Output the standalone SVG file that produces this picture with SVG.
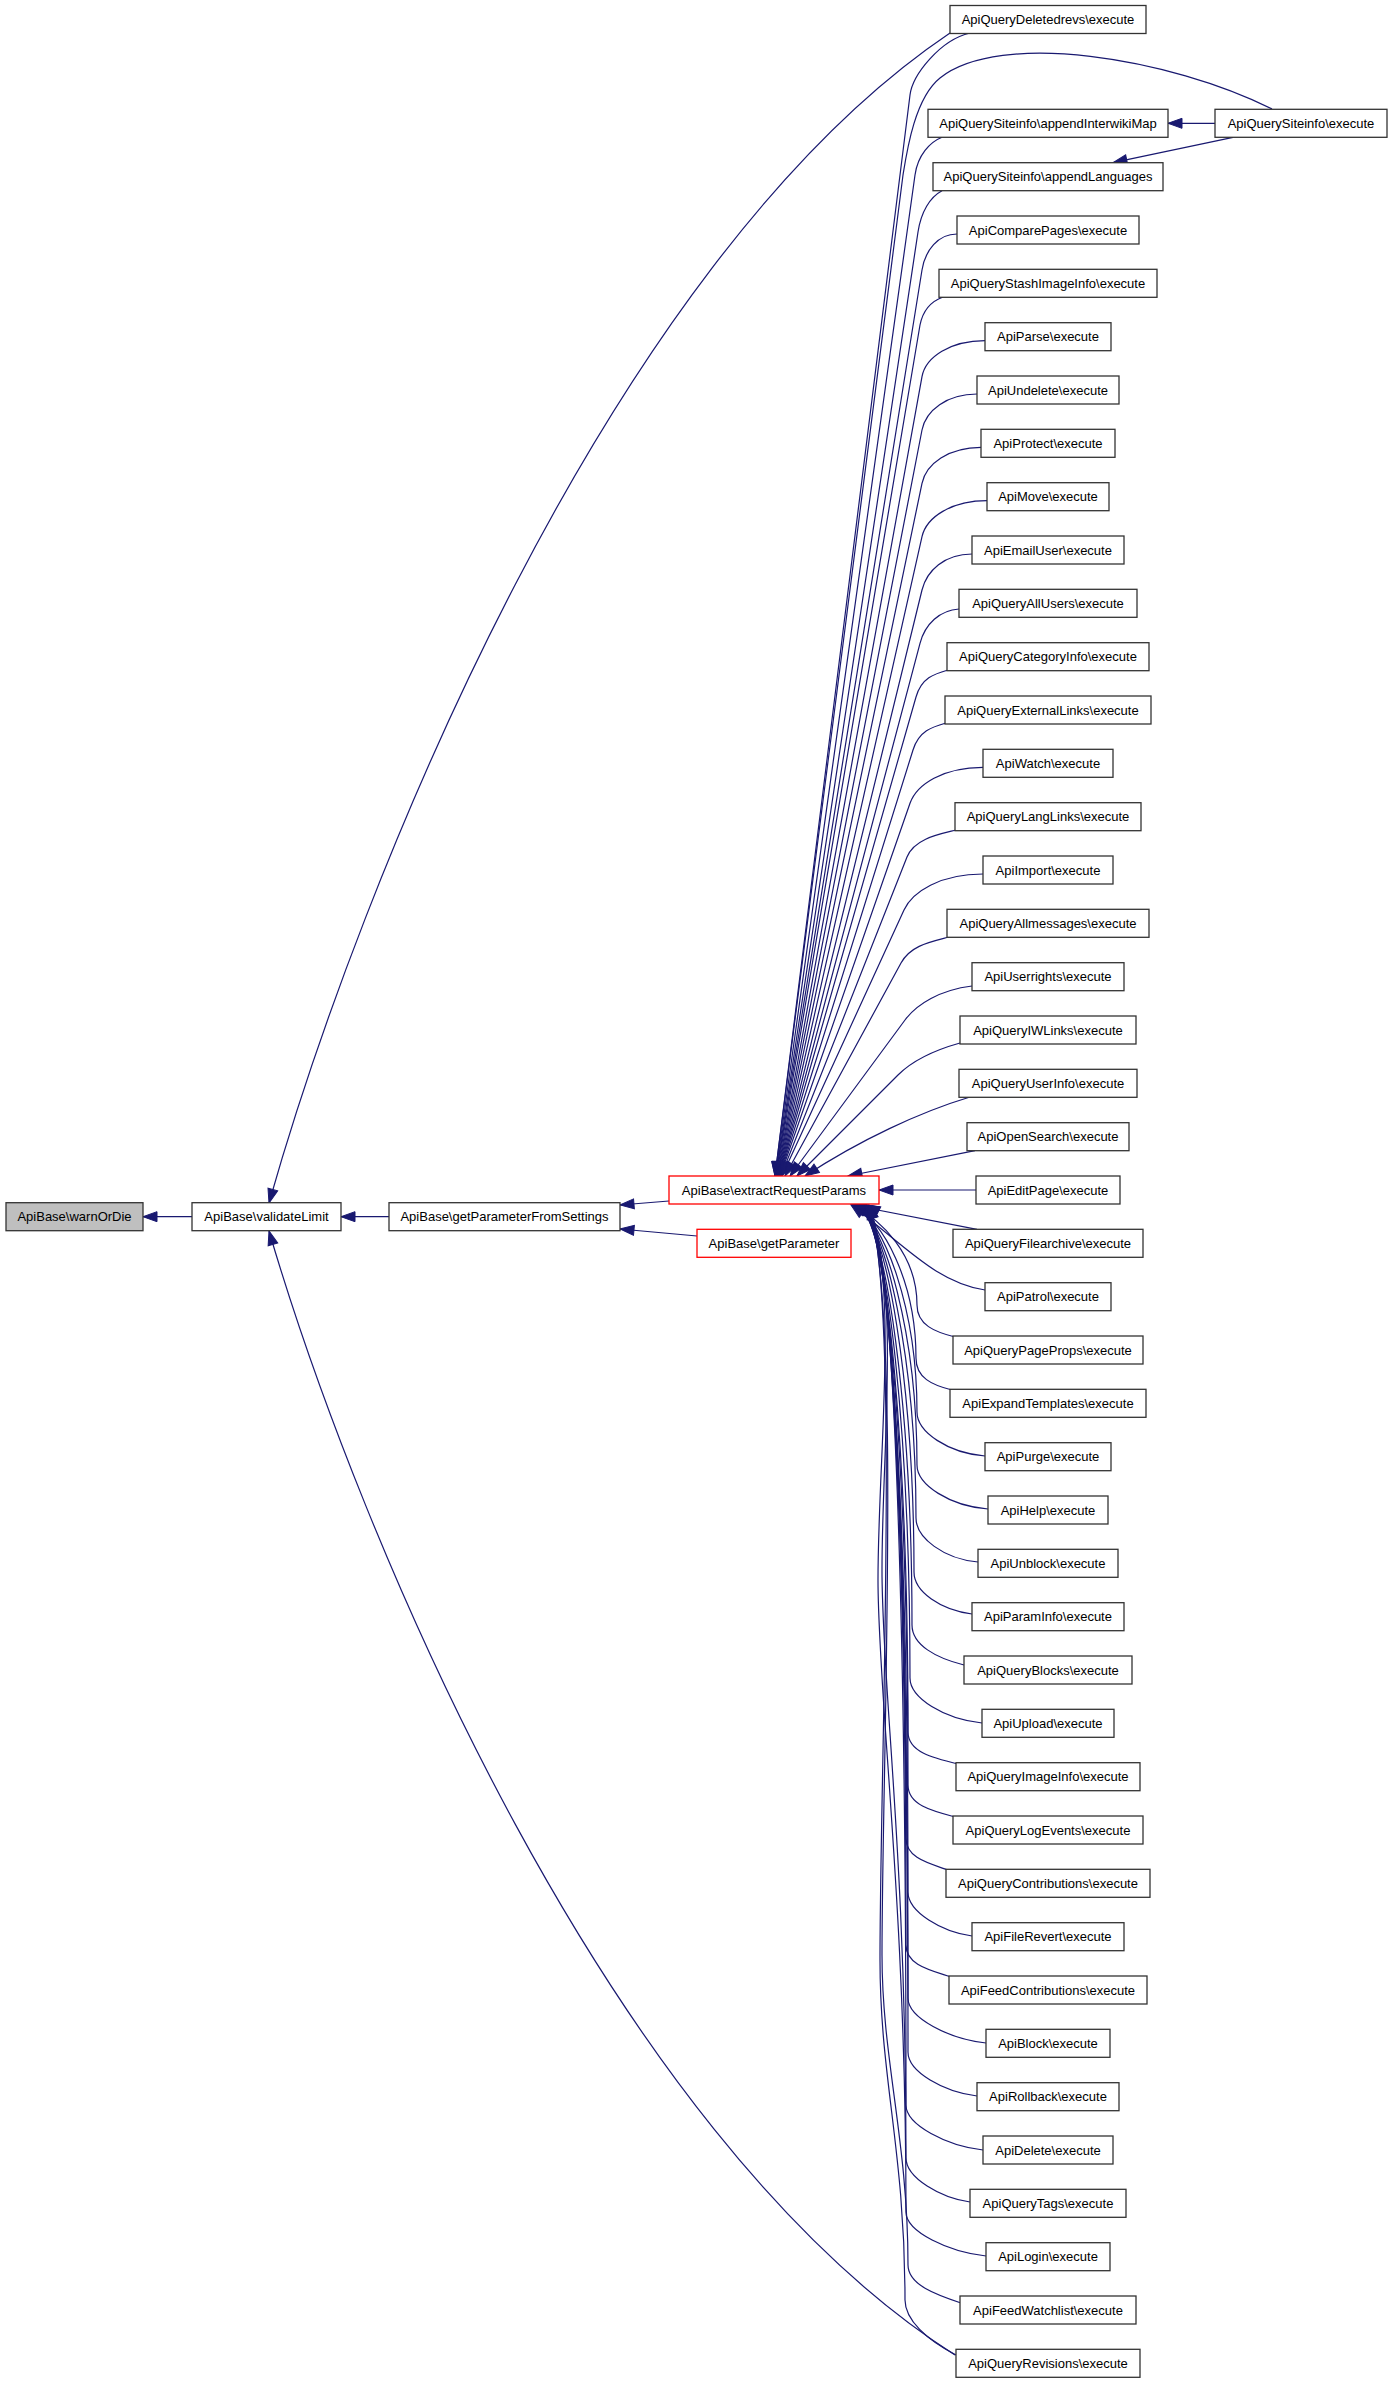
<svg xmlns="http://www.w3.org/2000/svg" width="1392" height="2384" viewBox="0 0 1392 2384">
<style>
.n rect{fill:#fff;stroke:#333;stroke-width:1.3}
.n.red rect{stroke:#ff0000}
.n.cur rect{fill:#bfbfbf}
.n text{font-family:"Liberation Sans",Arial,sans-serif;font-size:13px;text-anchor:middle;fill:#000}
#edges path{fill:none;stroke:#191970;stroke-width:1.2;marker-end:url(#arr)}
</style>
<defs>
<marker id="arr" markerUnits="userSpaceOnUse" markerWidth="16" markerHeight="12" refX="14" refY="5" orient="auto" overflow="visible">
<path d="M0,0 L14,5 L0,10 Z" fill="#191970" stroke="#191970" stroke-width="1"/>
</marker>
</defs>
<rect width="1392" height="2384" fill="#fff"/>
<g id="edges">
<path d="M192,1216.7 L143,1216.7"/>
<path d="M389,1216.7 L341,1216.7"/>
<path d="M669,1201 L620,1205"/>
<path d="M697,1236 L620,1229"/>
<path d="M950,33 C608,263 359,885 269,1203"/>
<path d="M955,2355 C608,2134 359,1537 269,1231"/>
<path d="M1215,123.3 L1168,123.3"/>
<path d="M1233,137.3 L1113,162.7"/>
<path d="M1272,109 C1170,58 1000,30 940,78 C915,98 907,150 903,175 L775,1176"/>
<path d="M970,33 C940,40 912.5,75 910,95 L775,1176"/>
<path d="M942,137.3 C930,142 917.8,155.2 915,175 L775.4,1176"/>
<path d="M942,190.7 C930,197 921,212 918,232 L775.8,1176"/>
<path d="M957,234 C938,234 925.2,250.3 922,270 L776,1176"/>
<path d="M943,297 C932,301 923,310 920,325 L776.5,1176"/>
<path d="M985,340.7 C950.4,340.7 925.6,357 922,376.7 L777,1176"/>
<path d="M977,394 C946.8,394 925.8,410.4 922,430 L777.4,1176"/>
<path d="M981,447.3 C948.6,447.3 926.1,463.7 922,483.3 L777.8,1176"/>
<path d="M987,500.7 C951.3,500.7 926.4,517.2 922,536.7 L778.2,1176"/>
<path d="M972,554 C944.5,554 926.8,570.6 922,590 L778.6,1176"/>
<path d="M959,609 C940,610 925.1,624 920,643.3 L779,1176"/>
<path d="M948,670 C934,674 921.5,677.8 916,697 L779.4,1176"/>
<path d="M946,723 C932,727 919,730.9 913,750 L779.8,1176"/>
<path d="M983,767.3 C943,767.3 916.6,784.4 910,803.3 L780.2,1176"/>
<path d="M956,830 C940,834 914.3,838.4 907,857 L781,1176"/>
<path d="M983,874 C940,874 912.3,891.8 904,910 L782,1176"/>
<path d="M949,937 C930,942 910.6,945.4 901,963 L785,1176"/>
<path d="M972,986 C940,990 916.9,1003.9 905,1020 L790,1176"/>
<path d="M960,1043 C935,1050 912.1,1060.9 898,1075 L797,1176"/>
<path d="M970,1097 C920,1112 860,1140 805,1176"/>
<path d="M975,1150.7 L848,1176"/>
<path d="M976,1190 L879,1190"/>
<path d="M977,1229.3 L852,1205"/>
<path d="M985,1290 C935,1282 905,1245 851,1205"/>
<path d="M955,1337 C935,1332 917,1325 917,1305 C917,1255 882,1220 852,1205"/>
<path d="M952,1390 C932,1385 916,1378 916,1358 C916,1281.5 883,1220 853,1205"/>
<path d="M985,1456 C948,1453 917,1432 917,1412 C917,1308.5 884,1220 854,1205"/>
<path d="M988,1509 C950,1506 917,1485 917,1465 C917,1335 885,1220 855,1205"/>
<path d="M978,1562 C944,1559 916,1538 916,1518 C916,1361.5 886,1220 856,1205"/>
<path d="M972,1614 C941,1610 914,1592 914,1572 C914,1388.5 887,1220 857,1205"/>
<path d="M964,1665 C936,1658 912,1645 912,1625 C912,1415 887,1220 857,1205"/>
<path d="M982,1723 C944,1719 910,1698 910,1678 C910,1441.5 888,1220 858,1205"/>
<path d="M958,1764 C933,1758 908,1752 908,1732 C908,1468.5 889,1220 859,1205"/>
<path d="M955,1817 C932,1811 908,1805 908,1785 C908,1495 890,1220 860,1205"/>
<path d="M948,1870 C928,1863 906,1858 906,1838 C906,1521.5 891,1220 861,1205"/>
<path d="M972,1936 C942,1932 908,1912 908,1892 C908,1548.5 892,1220 862,1205"/>
<path d="M951,1977 C930,1970 906,1965 906,1945 C906,1575 893,1220 863,1205"/>
<path d="M986,2043 C949,2039 908,2018 908,1998 C908,1601.5 894,1220 864,1205"/>
<path d="M977,2096 C944,2092 908,2072 908,2052 C908,1628.5 895,1220 865,1205"/>
<path d="M983,2150 C947,2146 906,2125 906,2105 C906,1655 896,1220 866,1205"/>
<path d="M970,2202 C941,2198 906,2178 906,2158 C906,1850 882,1690 882,1570 C882,1440 902,1285 866,1205"/>
<path d="M986,2256 C949,2252 906,2232 906,2212 C906,1900 878,1700 878,1580 C878,1450 900,1280 867,1205"/>
<path d="M961,2303 C937,2295 908,2285 908,2265 C908,2140 882,2060 882,1955 C882,1760 902,1300 868,1205"/>
<path d="M956,2355 C927,2340 905,2320 905,2300 C905,2150 880,2080 880,1960 C880,1760 900,1300 869,1205"/>
</g>
<g id="n_warnOrDie" class="n cur"><rect x="6" y="1202.7" width="137" height="28"/><text x="74.5" y="1221.2">ApiBase\warnOrDie</text></g>
<g id="n_validateLimit" class="n"><rect x="192" y="1202.7" width="149" height="28"/><text x="266.5" y="1221.2">ApiBase\validateLimit</text></g>
<g id="n_getParameterFromSettings" class="n"><rect x="389" y="1202.7" width="231" height="28"/><text x="504.5" y="1221.2">ApiBase\getParameterFromSettings</text></g>
<g id="n_extractRequestParams" class="n red"><rect x="669" y="1176" width="210" height="28"/><text x="774" y="1194.5">ApiBase\extractRequestParams</text></g>
<g id="n_getParameter" class="n red"><rect x="697" y="1229.3" width="154" height="28"/><text x="774" y="1247.8">ApiBase\getParameter</text></g>
<g id="n_siteinfo_execute" class="n"><rect x="1215" y="109.3" width="172" height="28"/><text x="1301" y="127.8">ApiQuerySiteinfo\execute</text></g>
<g id="n00" class="n"><rect x="950" y="5.5" width="196" height="28"/><text x="1048" y="24">ApiQueryDeletedrevs\execute</text></g>
<g id="n01" class="n"><rect x="928" y="109.3" width="240" height="28"/><text x="1048" y="127.8">ApiQuerySiteinfo\appendInterwikiMap</text></g>
<g id="n02" class="n"><rect x="933" y="162.7" width="230" height="28"/><text x="1048" y="181.2">ApiQuerySiteinfo\appendLanguages</text></g>
<g id="n03" class="n"><rect x="957" y="216" width="182" height="28"/><text x="1048" y="234.5">ApiComparePages\execute</text></g>
<g id="n04" class="n"><rect x="939" y="269.3" width="218" height="28"/><text x="1048" y="287.8">ApiQueryStashImageInfo\execute</text></g>
<g id="n05" class="n"><rect x="985" y="322.7" width="126" height="28"/><text x="1048" y="341.2">ApiParse\execute</text></g>
<g id="n06" class="n"><rect x="977" y="376" width="142" height="28"/><text x="1048" y="394.5">ApiUndelete\execute</text></g>
<g id="n07" class="n"><rect x="981" y="429.3" width="134" height="28"/><text x="1048" y="447.8">ApiProtect\execute</text></g>
<g id="n08" class="n"><rect x="987" y="482.7" width="122" height="28"/><text x="1048" y="501.2">ApiMove\execute</text></g>
<g id="n09" class="n"><rect x="972" y="536" width="152" height="28"/><text x="1048" y="554.5">ApiEmailUser\execute</text></g>
<g id="n10" class="n"><rect x="959" y="589.3" width="178" height="28"/><text x="1048" y="607.8">ApiQueryAllUsers\execute</text></g>
<g id="n11" class="n"><rect x="947" y="642.7" width="202" height="28"/><text x="1048" y="661.2">ApiQueryCategoryInfo\execute</text></g>
<g id="n12" class="n"><rect x="945" y="696" width="206" height="28"/><text x="1048" y="714.5">ApiQueryExternalLinks\execute</text></g>
<g id="n13" class="n"><rect x="983" y="749.3" width="130" height="28"/><text x="1048" y="767.8">ApiWatch\execute</text></g>
<g id="n14" class="n"><rect x="955" y="802.7" width="186" height="28"/><text x="1048" y="821.2">ApiQueryLangLinks\execute</text></g>
<g id="n15" class="n"><rect x="983" y="856" width="130" height="28"/><text x="1048" y="874.5">ApiImport\execute</text></g>
<g id="n16" class="n"><rect x="947" y="909.3" width="202" height="28"/><text x="1048" y="927.8">ApiQueryAllmessages\execute</text></g>
<g id="n17" class="n"><rect x="972" y="962.7" width="152" height="28"/><text x="1048" y="981.2">ApiUserrights\execute</text></g>
<g id="n18" class="n"><rect x="960" y="1016" width="176" height="28"/><text x="1048" y="1034.5">ApiQueryIWLinks\execute</text></g>
<g id="n19" class="n"><rect x="959" y="1069.3" width="178" height="28"/><text x="1048" y="1087.8">ApiQueryUserInfo\execute</text></g>
<g id="n20" class="n"><rect x="967" y="1122.7" width="162" height="28"/><text x="1048" y="1141.2">ApiOpenSearch\execute</text></g>
<g id="n21" class="n"><rect x="976" y="1176" width="144" height="28"/><text x="1048" y="1194.5">ApiEditPage\execute</text></g>
<g id="n22" class="n"><rect x="953" y="1229.3" width="190" height="28"/><text x="1048" y="1247.8">ApiQueryFilearchive\execute</text></g>
<g id="n23" class="n"><rect x="985" y="1282.7" width="126" height="28"/><text x="1048" y="1301.2">ApiPatrol\execute</text></g>
<g id="n24" class="n"><rect x="953" y="1336" width="190" height="28"/><text x="1048" y="1354.5">ApiQueryPageProps\execute</text></g>
<g id="n25" class="n"><rect x="950" y="1389.3" width="196" height="28"/><text x="1048" y="1407.8">ApiExpandTemplates\execute</text></g>
<g id="n26" class="n"><rect x="985" y="1442.7" width="126" height="28"/><text x="1048" y="1461.2">ApiPurge\execute</text></g>
<g id="n27" class="n"><rect x="988" y="1496" width="120" height="28"/><text x="1048" y="1514.5">ApiHelp\execute</text></g>
<g id="n28" class="n"><rect x="978" y="1549.3" width="140" height="28"/><text x="1048" y="1567.8">ApiUnblock\execute</text></g>
<g id="n29" class="n"><rect x="972" y="1602.7" width="152" height="28"/><text x="1048" y="1621.2">ApiParamInfo\execute</text></g>
<g id="n30" class="n"><rect x="964" y="1656" width="168" height="28"/><text x="1048" y="1674.5">ApiQueryBlocks\execute</text></g>
<g id="n31" class="n"><rect x="982" y="1709.3" width="132" height="28"/><text x="1048" y="1727.8">ApiUpload\execute</text></g>
<g id="n32" class="n"><rect x="956" y="1762.7" width="184" height="28"/><text x="1048" y="1781.2">ApiQueryImageInfo\execute</text></g>
<g id="n33" class="n"><rect x="953" y="1816" width="190" height="28"/><text x="1048" y="1834.5">ApiQueryLogEvents\execute</text></g>
<g id="n34" class="n"><rect x="946" y="1869.3" width="204" height="28"/><text x="1048" y="1887.8">ApiQueryContributions\execute</text></g>
<g id="n35" class="n"><rect x="972" y="1922.7" width="152" height="28"/><text x="1048" y="1941.2">ApiFileRevert\execute</text></g>
<g id="n36" class="n"><rect x="949" y="1976" width="198" height="28"/><text x="1048" y="1994.5">ApiFeedContributions\execute</text></g>
<g id="n37" class="n"><rect x="986" y="2029.3" width="124" height="28"/><text x="1048" y="2047.8">ApiBlock\execute</text></g>
<g id="n38" class="n"><rect x="977" y="2082.7" width="142" height="28"/><text x="1048" y="2101.2">ApiRollback\execute</text></g>
<g id="n39" class="n"><rect x="983" y="2136" width="130" height="28"/><text x="1048" y="2154.5">ApiDelete\execute</text></g>
<g id="n40" class="n"><rect x="970" y="2189.3" width="156" height="28"/><text x="1048" y="2207.8">ApiQueryTags\execute</text></g>
<g id="n41" class="n"><rect x="986" y="2242.7" width="124" height="28"/><text x="1048" y="2261.2">ApiLogin\execute</text></g>
<g id="n42" class="n"><rect x="960" y="2296" width="176" height="28"/><text x="1048" y="2314.5">ApiFeedWatchlist\execute</text></g>
<g id="n43" class="n"><rect x="956" y="2349.3" width="184" height="28"/><text x="1048" y="2367.8">ApiQueryRevisions\execute</text></g>
</svg>
